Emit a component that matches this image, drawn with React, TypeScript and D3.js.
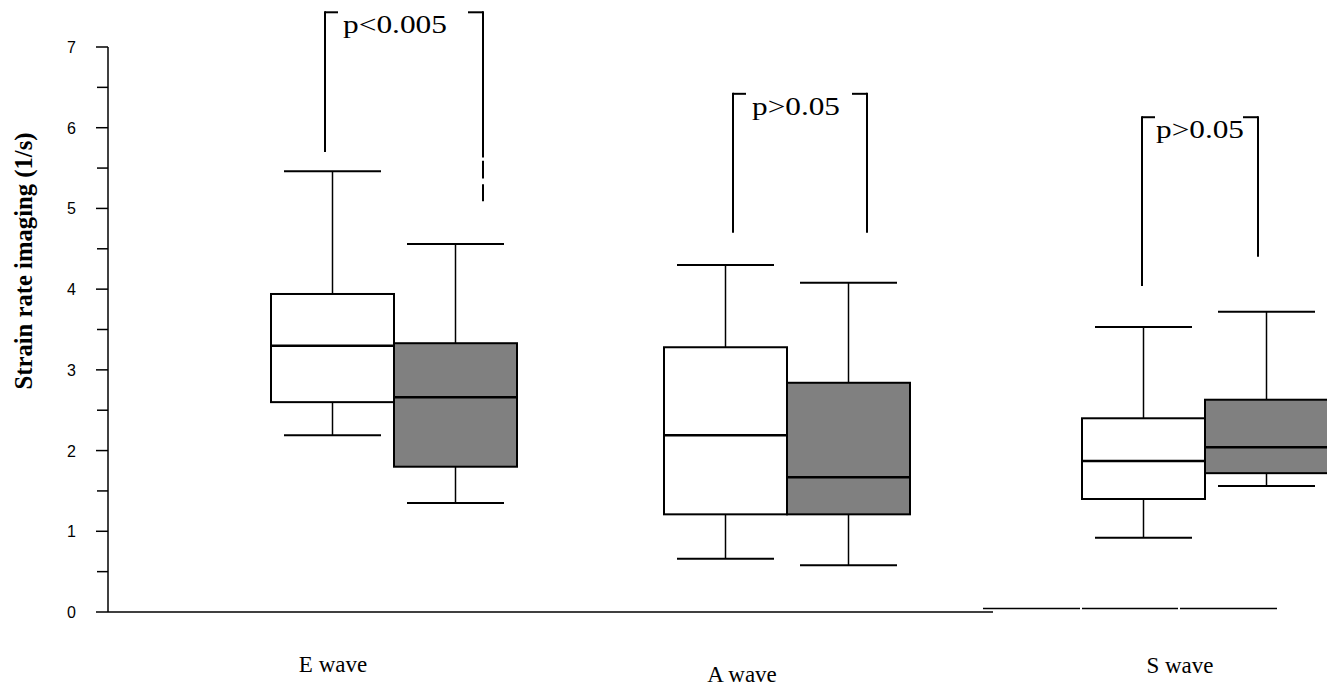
import React from "react";
import * as d3 from "d3";

// ---- data ----
const categories = ["E wave", "A wave", "S wave"];
const groups = ["control", "patients"];
// [low whisker, q1, median, q3, high whisker]
const controlStats = [
  [2.19, 2.6, 3.3, 3.94, 5.46],
  [0.66, 1.21, 2.19, 3.28, 4.3],
  [0.92, 1.4, 1.87, 2.4, 3.53],
];
const patientStats = [
  [1.35, 1.8, 2.66, 3.33, 4.56],
  [0.58, 1.21, 1.67, 2.84, 4.08],
  [1.56, 1.72, 2.04, 2.63, 3.72],
];
const pLabels = ["p<0.005", "p>0.05", "p>0.05"];
// bracket: [top, left leg bottom, right leg bottom]
const bracketValues = [
  [7.43, 5.7, 5.09],
  [6.42, 4.7, 4.7],
  [6.13, 4.04, 4.4],
];
const yTicks = [0, 1, 2, 3, 4, 5, 6, 7];
const yMinorTicks = [0.5, 1.5, 2.5, 3.5, 4.5, 5.5, 6.5];
const sBaselineValue = 0.05;

// ---- layout ----
const W = 1327;
const H = 688;
const axisX = 108;
const boxW = 123;
const capW = 97;
const groupCenters = [394, 787, 1205];
const bracketOffsets = [
  [-69, 89],
  [-54, 80],
  [-63, 53],
];
const pLabelX = [395, 796, 1200];
const pLabelW = [104, 88, 88];
const catLabelX = [333, 742, 1180];
const catLabelY = [672, 682, 673];

export default function App() {
  const y = d3.scaleLinear().domain([0, 7]).range([612, 47]);
  const xCat = d3.scaleOrdinal<string, number>().domain(categories).range(groupCenters);
  const xGroup = d3.scaleOrdinal<string, number>().domain(groups).range([-boxW / 2, boxW / 2]);
  const stroke = "#000";

  const drawBox = (s: number[], cx: number, fill: string, key: string) => {
    const [lo, q1, med, q3, hi] = s;
    return (
      <g key={key}>
        <line x1={cx} x2={cx} y1={y(hi)} y2={y(q3)} stroke={stroke} strokeWidth={1.5} />
        <line x1={cx} x2={cx} y1={y(q1)} y2={y(lo)} stroke={stroke} strokeWidth={1.5} />
        <line x1={cx - capW / 2} x2={cx + capW / 2} y1={y(hi)} y2={y(hi)} stroke={stroke} strokeWidth={2} />
        <line x1={cx - capW / 2} x2={cx + capW / 2} y1={y(lo)} y2={y(lo)} stroke={stroke} strokeWidth={2} />
        <rect x={cx - boxW / 2} y={y(q3)} width={boxW} height={y(q1) - y(q3)} fill={fill} stroke={stroke} strokeWidth={2} />
        <line x1={cx - boxW / 2} x2={cx + boxW / 2} y1={y(med)} y2={y(med)} stroke={stroke} strokeWidth={2.5} />
      </g>
    );
  };

  return (
    <svg width={W} height={H} style={{ position: "absolute", left: 0, top: 0, background: "#fff" }}>
      {/* y axis */}
      <line x1={axisX} x2={axisX} y1={y(7)} y2={y(0)} stroke={stroke} strokeWidth={1.5} />
      {yTicks.map((t) => (
        <g key={"t" + t}>
          <line x1={axisX - 12} x2={axisX} y1={y(t)} y2={y(t)} stroke={stroke} strokeWidth={1.5} />
          <text x={76} y={y(t) + 6} textAnchor="end" fontFamily="Liberation Sans, Arial" fontSize={16}>
            {t}
          </text>
        </g>
      ))}
      {yMinorTicks.map((t) => (
        <line key={"m" + t} x1={axisX - 11} x2={axisX} y1={y(t)} y2={y(t)} stroke={stroke} strokeWidth={1.5} />
      ))}
      <text
        transform={`translate(32,261) rotate(-90)`}
        textAnchor="middle"
        fontFamily="Liberation Serif, Times New Roman"
        fontWeight="bold"
        fontSize={25}
        textLength={257}
        lengthAdjust="spacingAndGlyphs"
      >
        Strain rate imaging (1/s)
      </text>
      {/* x axis */}
      <line x1={axisX} x2={993} y1={y(0)} y2={y(0)} stroke={stroke} strokeWidth={1.5} />
      {[
        [983, 1080],
        [1082, 1178],
        [1180, 1277],
      ].map(([a, b], i) => (
        <line key={"sb" + i} x1={a} x2={b} y1={y(sBaselineValue) + 0.5} y2={y(sBaselineValue) + 0.5} stroke={stroke} strokeWidth={1.5} />
      ))}

      {/* boxes */}
      {categories.map((c, i) => (
        <g key={c}>
          {drawBox(controlStats[i], xCat(c) + xGroup("control"), "#fff", c + "c")}
          {drawBox(patientStats[i], xCat(c) + xGroup("patients"), "#808080", c + "p")}
        </g>
      ))}

      {/* brackets */}
      {categories.map((c, i) => {
        const [top, lb, rb] = bracketValues[i];
        const lx = xCat(c) + bracketOffsets[i][0];
        const rx = xCat(c) + bracketOffsets[i][1];
        const rightSegs =
          i === 0
            ? [
                [top, 5.63],
                [5.59, 5.37],
                [5.3, rb],
              ]
            : [[top, rb]];
        return (
          <g key={"br" + c}>
            <line x1={lx} x2={lx} y1={y(top) - 1} y2={y(lb)} stroke={stroke} strokeWidth={2} />
            <line x1={lx} x2={lx + 13} y1={y(top)} y2={y(top)} stroke={stroke} strokeWidth={2} />
            <line x1={rx - 15} x2={rx} y1={y(top)} y2={y(top)} stroke={stroke} strokeWidth={2} />
            {rightSegs.map(([a, b], j) => (
              <line key={j} x1={rx} x2={rx} y1={y(a) - (j === 0 ? 1 : 0)} y2={y(b)} stroke={stroke} strokeWidth={2} />
            ))}
            <text
              x={pLabelX[i]}
              y={y(top) + 21}
              textAnchor="middle"
              fontFamily="Liberation Serif, Times New Roman"
              fontSize={26}
              textLength={pLabelW[i]}
              lengthAdjust="spacingAndGlyphs"
            >
              {pLabels[i]}
            </text>
          </g>
        );
      })}

      {/* category labels */}
      {categories.map((c, i) => (
        <text key={"cl" + c} x={catLabelX[i]} y={catLabelY[i]} textAnchor="middle" fontFamily="Liberation Serif, Times New Roman" fontSize={23}>
          {c}
        </text>
      ))}
    </svg>
  );
}
